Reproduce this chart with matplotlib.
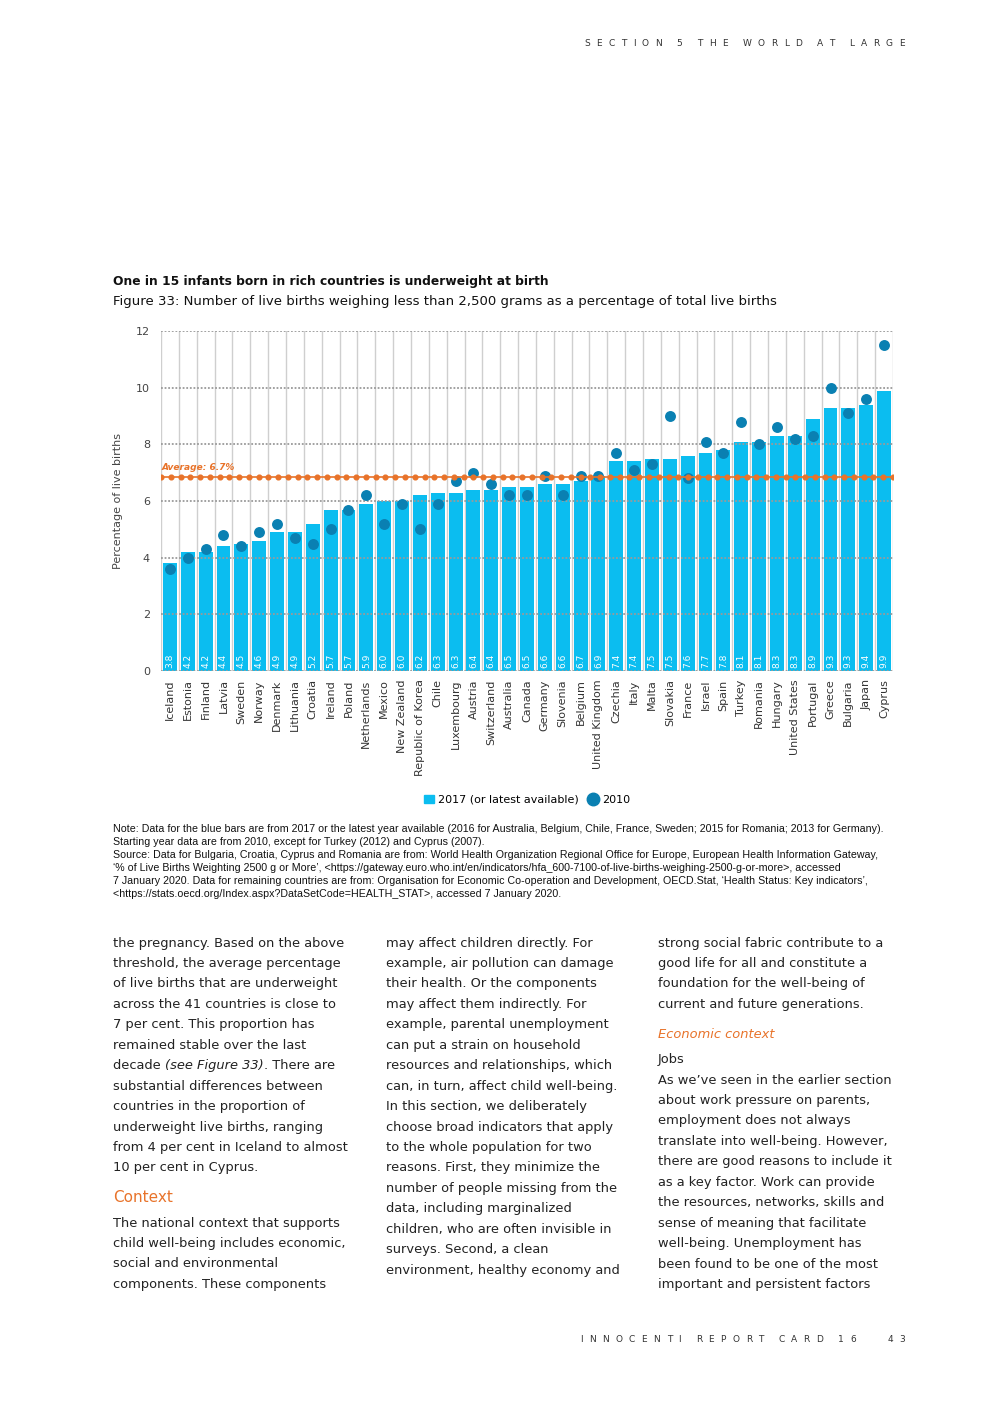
import matplotlib
matplotlib.use("Agg")
import numpy as np
import matplotlib.pyplot as plt
from matplotlib.patches import Patch
from matplotlib.lines import Line2D

# data
countries = ["Iceland", "Estonia", "Finland", "Latvia", "Sweden", "Norway", "Denmark",
             "Lithuania", "Croatia", "Ireland", "Poland", "Netherlands", "Mexico",
             "New Zealand", "Republic of Korea", "Chile", "Luxembourg", "Austria",
             "Switzerland", "Australia", "Canada", "Germany", "Slovenia", "Belgium",
             "United Kingdom", "Czechia", "Italy", "Malta", "Slovakia", "France", "Israel",
             "Spain", "Turkey", "Romania", "Hungary", "United States", "Portugal",
             "Greece", "Bulgaria", "Japan", "Cyprus"]
val_2017 = [3.8, 4.2, 4.2, 4.4, 4.5, 4.6, 4.9, 4.9, 5.2, 5.7, 5.7, 5.9, 6.0, 6.0, 6.2,
            6.3, 6.3, 6.4, 6.4, 6.5, 6.5, 6.6, 6.6, 6.7, 6.9, 7.4, 7.4, 7.5, 7.5, 7.6,
            7.7, 7.8, 8.1, 8.1, 8.3, 8.3, 8.9, 9.3, 9.3, 9.4, 9.9]
val_2010 = [3.6, 4.0, 4.3, 4.8, 4.4, 4.9, 5.2, 4.7, 4.5, 5.0, 5.7, 6.2, 5.2, 5.9, 5.0,
            5.9, 6.7, 7.0, 6.6, 6.2, 6.2, 6.9, 6.2, 6.9, 6.9, 7.7, 7.1, 7.3, 9.0, 6.8,
            8.1, 7.7, 8.8, 8.0, 8.6, 8.2, 8.3, 10.0, 9.1, 9.6, 11.5]
average_line = 6.85
average_label = "Average: 6.7%"
yticks = [0, 2, 4, 6, 8, 10, 12]

BAR = "#0bbdf0"
DOT = "#0a80b2"
ORANGE = "#e8732a"
GREY = "#333333"
W, H = 992, 1403


def fx(x):
    return x / W


def fy(y):
    return 1 - y / H


fig = plt.figure(figsize=(9.92, 14.03), dpi=100)
plt.rcParams["font.family"] = ["DejaVu Sans"]
renderer = fig.canvas.get_renderer()


def tracked(x_right, y, s, size, track):
    # draw text letter by letter with extra spacing, right aligned at x_right (px)
    widths = []
    for ch in s:
        if ch == " ":
            widths.append(size * 0.3)
            continue
        t = fig.text(0, 0, ch, fontsize=size)
        widths.append(t.get_window_extent(renderer).width)
        t.remove()
    total = sum(widths) + track * (len(s) - 1)
    x = x_right - total
    for ch, w in zip(s, widths):
        if ch != " ":
            fig.text(fx(x), fy(y), ch, fontsize=size, va="center", color=GREY)
        x += w + track


ax = fig.add_axes([fx(161), fy(671), 732 / W, 340 / H])
n = len(countries)
xs = list(range(n))

# gridlines
for b in range(n + 1):
    ax.axvline(b - 0.5, color="#cfcfcf", lw=1, zorder=0)
for t in yticks:
    ax.axhline(t, color="#9a9a9a", lw=1.3, ls=(0, (1, 1)), zorder=3)

ax.bar(xs, val_2017, width=0.78, color=BAR, zorder=2)
for x, v in zip(xs, val_2017):
    ax.text(x, 0.12, f"{v:.1f}", rotation=90, ha="center", va="bottom",
            color="white", fontsize=6.5, zorder=5)

ax.scatter(xs, val_2010, s=62, color=DOT, zorder=4, linewidths=0)

# average line with dots
ax.plot([-0.5, n - 0.5], [average_line, average_line], color=ORANGE, lw=1.2, zorder=6)
avg_x = np.linspace(-0.5, n - 0.5, 76)
ax.plot(avg_x, [average_line] * len(avg_x), ls="none", marker="o", ms=3.4,
        color=ORANGE, zorder=6)
ax.text(-0.45, average_line + 0.18, average_label, color=ORANGE, fontsize=6.5,
        style="italic", fontweight="bold", ha="left", va="bottom", zorder=6)

ax.set_xlim(-0.5, n - 0.5)
ax.set_ylim(0, 12)
ax.set_yticks(yticks)
ax.set_yticklabels([str(t) for t in yticks], fontsize=8, color="#444444")
ax.set_xticks(xs)
ax.set_xticklabels(countries, rotation=90, fontsize=8, color=GREY)
ax.tick_params(length=0)
ax.tick_params(axis="x", pad=6)
ax.tick_params(axis="y", pad=8)
for s in ax.spines.values():
    s.set_visible(False)
ax.set_ylabel("Percentage of live births", fontsize=8, color="#444444", labelpad=9)

# legend
handles = [Patch(color=BAR, label="2017 (or latest available)"),
           Line2D([], [], ls="none", marker="o", ms=9, color=DOT, label="2010")]
fig.legend(handles=handles, loc="center", bbox_to_anchor=(fx(527), fy(800)), ncol=2,
           frameon=False, fontsize=8, handlelength=0.9, handletextpad=0.4,
           columnspacing=0.8)

# titles
fig.text(fx(113), fy(281), "One in 15 infants born in rich countries is underweight at birth",
         fontsize=8.8, fontweight="bold", va="center", color="#111111")
fig.text(fx(113), fy(302), "Figure 33: Number of live births weighing less than 2,500 grams as a percentage of total live births",
         fontsize=9.55, va="center", color="#111111")

# header / footer
tracked(905, 43, "SECTION 5 THE WORLD AT LARGE", 6.5, 6.4)
tracked(905, 1340, "INNOCENTI REPORT CARD 16   43", 6.5, 6.4)

# notes
notes = [
    "Note: Data for the blue bars are from 2017 or the latest year available (2016 for Australia, Belgium, Chile, France, Sweden; 2015 for Romania; 2013 for Germany).",
    "Starting year data are from 2010, except for Turkey (2012) and Cyprus (2007).",
    "Source: Data for Bulgaria, Croatia, Cyprus and Romania are from: World Health Organization Regional Office for Europe, European Health Information Gateway,",
    "\u2018% of Live Births Weighting 2500 g or More\u2019, <https://gateway.euro.who.int/en/indicators/hfa_600-7100-of-live-births-weighing-2500-g-or-more>, accessed",
    "7 January 2020. Data for remaining countries are from: Organisation for Economic Co-operation and Development, OECD.Stat, \u2018Health Status: Key indicators\u2019,",
    "<https://stats.oecd.org/Index.aspx?DataSetCode=HEALTH_STAT>, accessed 7 January 2020.",
]
for i, line in enumerate(notes):
    fig.text(fx(113), fy(829 + i * 13), line, fontsize=7.65, va="center",
             color="#111111", family="Liberation Sans")

# body text
col1 = ["the pregnancy. Based on the above", "threshold, the average percentage",
        "of live births that are underweight", "across the 41 countries is close to",
        "7 per cent. This proportion has", "remained stable over the last",
        None, "substantial differences between", "countries in the proportion of",
        "underweight live births, ranging", "from 4 per cent in Iceland to almost",
        "10 per cent in Cyprus."]
col1b = ["The national context that supports", "child well-being includes economic,",
         "social and environmental", "components. These components"]
col2 = ["may affect children directly. For", "example, air pollution can damage",
        "their health. Or the components", "may affect them indirectly. For",
        "example, parental unemployment", "can put a strain on household",
        "resources and relationships, which", "can, in turn, affect child well-being.",
        "In this section, we deliberately", "choose broad indicators that apply",
        "to the whole population for two", "reasons. First, they minimize the",
        "number of people missing from the", "data, including marginalized",
        "children, who are often invisible in", "surveys. Second, a clean",
        "environment, healthy economy and"]
col3a = ["strong social fabric contribute to a", "good life for all and constitute a",
         "foundation for the well-being of", "current and future generations."]
col3b = ["As we\u2019ve seen in the earlier section", "about work pressure on parents,",
         "employment does not always", "translate into well-being. However,",
         "there are good reasons to include it", "as a key factor. Work can provide",
         "the resources, networks, skills and", "sense of meaning that facilitate",
         "well-being. Unemployment has", "been found to be one of the most",
         "important and persistent factors"]

BODY = 9.4
LS = 20.45
BODYC = "#222222"
for i, line in enumerate(col1):
    y = fy(943 + i * LS)
    if line is None:
        t = fig.text(fx(113), y, "decade ", fontsize=BODY, va="center", color=BODYC)
        bb = t.get_window_extent(renderer)
        t2 = fig.text(bb.x1 / W, y, "(see Figure 33)", fontsize=BODY, va="center",
                      color=BODYC, style="italic")
        bb2 = t2.get_window_extent(renderer)
        fig.text(bb2.x1 / W, y, ". There are", fontsize=BODY, va="center", color=BODYC)
    else:
        fig.text(fx(113), y, line, fontsize=BODY, va="center", color=BODYC)
fig.text(fx(113), fy(1197), "Context", fontsize=11, va="center", color=ORANGE)
for i, line in enumerate(col1b):
    fig.text(fx(113), fy(1223 + i * LS), line, fontsize=BODY, va="center", color=BODYC)
for i, line in enumerate(col2):
    fig.text(fx(386), fy(943 + i * LS), line, fontsize=BODY, va="center", color=BODYC)
for i, line in enumerate(col3a):
    fig.text(fx(658), fy(943 + i * LS), line, fontsize=BODY, va="center", color=BODYC)
fig.text(fx(658), fy(1034), "Economic context", fontsize=BODY, va="center",
         color=ORANGE, style="italic")
fig.text(fx(658), fy(1060), "Jobs", fontsize=BODY, va="center", color=BODYC)
for i, line in enumerate(col3b):
    fig.text(fx(658), fy(1080 + i * LS), line, fontsize=BODY, va="center", color=BODYC)

fig.savefig("out.png", dpi=100)
